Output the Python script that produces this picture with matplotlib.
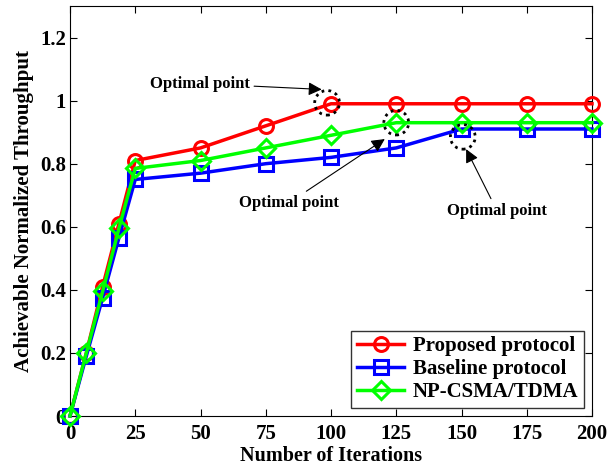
import matplotlib
matplotlib.use('Agg')
import matplotlib.pyplot as plt
from matplotlib.patches import Ellipse

# data
iterations = [0, 6.25, 12.5, 18.75, 25, 50, 75, 100, 125, 150, 175, 200]
proposed = [0, 0.20, 0.41, 0.61, 0.81, 0.85, 0.92, 0.99, 0.99, 0.99, 0.99, 0.99]
baseline = [0, 0.19, 0.375, 0.565, 0.75, 0.77, 0.80, 0.82, 0.85, 0.91, 0.91, 0.91]
np_csma = [0, 0.20, 0.395, 0.595, 0.785, 0.81, 0.85, 0.89, 0.93, 0.93, 0.93, 0.93]
x_ticks = [0, 25, 50, 75, 100, 125, 150, 175, 200]
y_ticks = [0, 0.2, 0.4, 0.6, 0.8, 1.0, 1.2]
y_tick_labels = ['0', '0.2', '0.4', '0.6', '0.8', '1', '1.2']

plt.rcParams['font.family'] = 'Liberation Serif'
plt.rcParams['font.weight'] = 'bold'

fig = plt.figure(figsize=(6.16, 4.69), dpi=100)
ax = fig.add_axes([70 / 616, 1 - 416 / 469, 522 / 616, 410 / 469])

style = dict(lw=2.5, ms=10, mew=2.2, mfc='none', clip_on=False, zorder=3)
ax.plot(iterations, proposed, '-o', color='#ff0000', label='Proposed protocol', **style)
ax.plot(iterations, baseline, '-s', color='#0000ff', label='Baseline protocol', **style)
style['ms'] = 9
ax.plot(iterations, np_csma, '-D', color='#00ff00', label='NP-CSMA/TDMA', **style)

ax.set_xlim(0, 200)
ax.set_ylim(0, 1.3)
ax.set_xticks(x_ticks)
ax.set_yticks(y_ticks)
ax.set_yticklabels(y_tick_labels)
ax.tick_params(direction='in', top=True, right=True, labelsize=15, length=5, pad=3)
ax.tick_params(axis='x', pad=6)
for lab in ax.get_xticklabels() + ax.get_yticklabels():
    lab.set_fontweight('bold')

ax.set_xlabel('Number of Iterations', fontsize=14.5, fontweight='bold', labelpad=1)
ax.set_ylabel('Achievable Normalized Throughput', fontsize=15, fontweight='bold', labelpad=4)

# dotted circles around optimal points
for cx, cy in [(98.5, 0.993), (125, 0.93), (150.5, 0.885)]:
    ax.add_patch(Ellipse((cx, cy), 9.5, 0.078, fill=False, ls=(0, (1, 1.5)), lw=2,
                         color='black', zorder=4))

arrow = dict(arrowstyle='-|>', color='black', lw=0.8, mutation_scale=20, shrinkA=1)
ax.annotate('Optimal point', xy=(97.5, 1.035), xytext=(49.8, 1.054),
            ha='center', va='center', fontsize=12, fontweight='bold', arrowprops=arrow)
ax.annotate('Optimal point', xy=(121.5, 0.883), xytext=(83.9, 0.676),
            ha='center', va='center', fontsize=12, fontweight='bold', arrowprops=arrow)
ax.annotate('Optimal point', xy=(151.3, 0.854), xytext=(163.6, 0.651),
            ha='center', va='center', fontsize=12, fontweight='bold', arrowprops=arrow)

leg = ax.legend(loc='lower right', fontsize=15, frameon=True, fancybox=False,
                edgecolor='black', handlelength=2.3, borderpad=0.25, labelspacing=0.15,
                handletextpad=0.4, borderaxespad=0.4)
leg.get_frame().set_linewidth(1.0)
for t in leg.get_texts():
    t.set_fontweight('bold')

fig.savefig('out.png', dpi=100)
